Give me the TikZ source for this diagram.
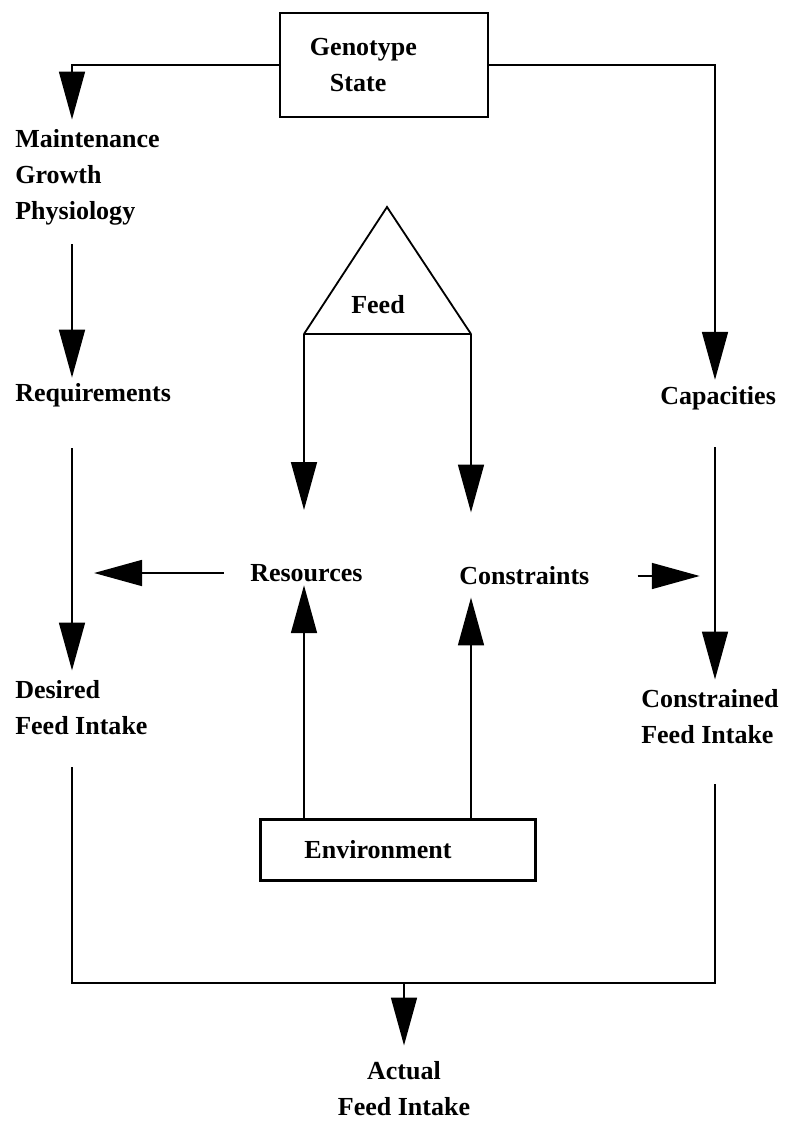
\documentclass[tikz,border=0pt]{standalone}
\usepackage{fontspec}
\setmainfont{Liberation Serif}
\usetikzlibrary{arrows.meta}

\tikzset{
  txt/.style={font=\bfseries\fontsize{18.5}{25.6}\selectfont, inner sep=0pt, align=left},
  box/.style={txt, draw, line width=1.6pt},
  line/.style={line width=2.1pt},
  arr/.style={line, -{Triangle[length=1.2cm, width=0.64cm]}},
}

\begin{document}
\begin{tikzpicture}[x=0.025cm,y=-0.025cm]
\useasboundingbox (0,0) rectangle (785,1124);
\coordinate (lc) at (72,0);
\coordinate (rc) at (715,0);
\node[box, text width=3.7cm, inner xsep=0.75cm, minimum height=2.6cm] (geno) at (384,65) {Genotype\\\hspace*{0.5cm}State};
\node[txt, anchor=west] (maint) at (15,177) {Maintenance\\Growth\\Physiology};
\node[txt, anchor=west] (req) at (15,395) {Requirements};
\node[txt, anchor=west] (des) at (15,708) {Desired\\Feed Intake};
\node[txt, anchor=west] (cap) at (660,398) {Capacities};
\node[txt, anchor=west] (cfi) at (641,717) {Constrained\\Feed Intake};
\node[txt, anchor=west] (res) at (250,573) {Resources};
\node[txt, anchor=west] (con) at (459,576) {Constraints};
\node[box, text width=4.675cm, inner xsep=1.1cm, minimum height=1.525cm] (env) at (398,850) {Environment};
\node[txt, align=center] (act) at (404,1089) {Actual\\Feed Intake};
% feed triangle
\coordinate (ftop) at (387,207);
\coordinate (fl) at (304,334);
\coordinate (fr) at (471,334);
\draw[line width=1.3pt] (fl) -- (ftop) -- (fr);
\draw[line] (fl) -- (fr);
\node[txt] (feed) at (378,305) {Feed};
% left column
\draw[arr, shorten >=0.23cm] (geno.west) -| (maint.north -| lc);
\draw[arr, shorten <=0.48cm, shorten >=0.13cm] (maint.south -| lc) -- (req.north -| lc);
\draw[arr, shorten <=1.03cm, shorten >=0.25cm] (req.south -| lc) -- (des.north -| lc);
% right column
\draw[arr, shorten >=0.15cm] (geno.east) -| (cap.north -| rc);
\draw[arr, shorten <=0.93cm, shorten >=0.25cm] (cap.south -| rc) -- (cfi.north -| rc);
% feed and environment
\draw[arr, shorten >=1.35cm] (fl) -- (res.north -| fl);
\draw[arr, shorten >=1.35cm] (fr) -- (con.north -| fr);
\draw[arr, shorten >=0.08cm] (env.north -| fl) -- (res.south -| fl);
\draw[arr, shorten >=0.3cm] (env.north -| fr) -- (con.south -| fr);
\draw[arr, shorten <=0.65cm, shorten >=0.55cm] (res.west) -- (res.west -| lc);
\draw[arr, shorten <=1.2cm, shorten >=0.38cm] (con.east) -- (con.east -| rc);
% actual intake
\coordinate (jn) at (404,983);
\draw[line, shorten <=0.8cm, shorten >=1.0cm] (des.south -| lc) |- (jn) -| (cfi.south -| rc);
\draw[arr, shorten >=0.4cm] (jn) -- (act);
\end{tikzpicture}
\end{document}
